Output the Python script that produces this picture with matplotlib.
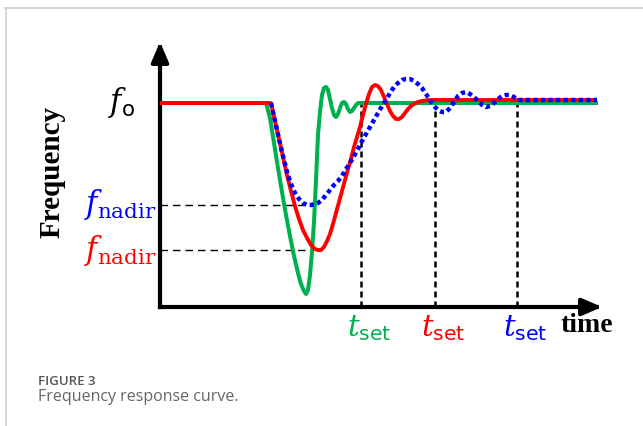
import matplotlib.pyplot as plt
from matplotlib.lines import Line2D

plt.rcParams['mathtext.fontset'] = 'dejavuserif'

GREEN = '#00b050'
RED = '#ff0000'
BLUE = '#0000ff'

F0 = 50.0  # nominal frequency (Hz)

# fast response (green)
t_green = [0.00, 1.06, 1.10, 1.14, 1.18, 1.22, 1.26, 1.30, 1.34, 1.38, 1.41, 1.44,
           1.46, 1.48, 1.50, 1.52, 1.54, 1.56, 1.58, 1.60, 1.62, 1.64, 1.66, 1.68,
           1.70, 1.72, 1.74, 1.76, 1.78, 1.80, 1.82, 1.84, 1.86, 1.88, 1.90, 1.92,
           1.94, 1.96, 1.98, 4.38]
f_green = [50.000, 50.000, 49.925, 49.800, 49.675, 49.555, 49.440, 49.335, 49.235,
           49.150, 49.095, 49.060, 49.045, 49.065, 49.140, 49.255, 49.405, 49.615,
           49.840, 49.955, 50.040, 50.075, 50.080, 50.065, 50.020, 49.975, 49.940,
           49.930, 49.945, 49.975, 50.000, 50.005, 49.995, 49.970, 49.955, 49.960,
           49.975, 49.990, 50.000, 50.000]

# medium response (red)
t_red = [0.00, 1.11, 1.15, 1.19, 1.23, 1.27, 1.31, 1.35, 1.39, 1.43, 1.47, 1.51,
         1.55, 1.58, 1.61, 1.64, 1.67, 1.70, 1.73, 1.76, 1.79, 1.82, 1.85, 1.88,
         1.91, 1.94, 1.97, 2.00, 2.03, 2.06, 2.09, 2.12, 2.15, 2.18, 2.21, 2.24,
         2.27, 2.30, 2.33, 2.36, 2.39, 2.42, 2.45, 2.48, 2.51, 2.54, 2.58, 2.62,
         2.68, 4.37]
f_red = [50.000, 50.000, 49.910, 49.820, 49.730, 49.640, 49.560, 49.485, 49.420,
         49.365, 49.325, 49.290, 49.270, 49.265, 49.265, 49.280, 49.310, 49.345,
         49.395, 49.450, 49.505, 49.560, 49.615, 49.670, 49.720, 49.780, 49.830,
         49.880, 49.940, 49.995, 50.045, 50.080, 50.090, 50.085, 50.065, 50.030,
         49.995, 49.960, 49.935, 49.920, 49.920, 49.930, 49.950, 49.970, 49.985,
         49.995, 50.005, 50.010, 50.015, 50.015]

# slow response (blue, dotted)
t_blue = [1.11, 1.15, 1.19, 1.23, 1.27, 1.31, 1.35, 1.39, 1.43, 1.47, 1.51, 1.55,
          1.58, 1.62, 1.66, 1.70, 1.74, 1.78, 1.82, 1.86, 1.90, 1.94, 1.98, 2.02,
          2.06, 2.10, 2.14, 2.18, 2.22, 2.26, 2.30, 2.34, 2.38, 2.42, 2.46, 2.50,
          2.54, 2.58, 2.62, 2.66, 2.70, 2.74, 2.78, 2.82, 2.86, 2.90, 2.94, 2.98,
          3.02, 3.06, 3.10, 3.14, 3.18, 3.22, 3.26, 3.30, 3.34, 3.38, 3.42, 3.46,
          3.50, 3.54, 3.58, 4.37]
f_blue = [50.000, 49.910, 49.820, 49.735, 49.655, 49.595, 49.550, 49.520, 49.500,
          49.490, 49.490, 49.495, 49.500, 49.515, 49.540, 49.565, 49.590, 49.610,
          49.635, 49.670, 49.700, 49.735, 49.770, 49.810, 49.845, 49.880, 49.915,
          49.950, 49.985, 50.015, 50.050, 50.080, 50.100, 50.115, 50.120, 50.120,
          50.110, 50.095, 50.075, 50.045, 50.015, 49.985, 49.965, 49.955, 49.955,
          49.975, 50.005, 50.035, 50.050, 50.055, 50.045, 50.030, 50.010, 49.990,
          49.980, 49.985, 50.000, 50.020, 50.035, 50.040, 50.040, 50.030, 50.015,
          50.015]

# nadir markers
f_nadir = [49.49, 49.265]
t_nadir = [1.47, 1.50]
nadir_colors = [BLUE, RED]

# settling times and the level where each marker starts
t_set = [2.01, 2.75, 3.57]
f_set = [50.000, 49.975, 50.005]
set_colors = [GREEN, RED, BLUE]

T_MAX = 4.42
F_MIN, F_MAX = 48.98, 50.305

fig = plt.figure(figsize=(6.43, 4.26), dpi=100)

# frame around the figure panel
fig.add_artist(Line2D([5 / 643, 1], [1 - 8 / 426] * 2, transform=fig.transFigure,
                      color='#cccccc', lw=1.1))
fig.add_artist(Line2D([6 / 643] * 2, [0, 1 - 8 / 426], transform=fig.transFigure,
                      color='#cccccc', lw=1.1))

ax = fig.add_axes([160 / 643, 119 / 426, 442 / 643, 265 / 426])
ax.set_xlim(0, T_MAX)
ax.set_ylim(F_MIN, F_MAX)
ax.axis('off')

# axes with arrow heads
arrow = dict(arrowstyle='-|>,head_length=0.6,head_width=0.26', mutation_scale=20,
             lw=3, color='black', shrinkA=0, shrinkB=0, capstyle='projecting')
ax.annotate('', xy=(T_MAX, F_MIN), xytext=(0, F_MIN), arrowprops=arrow,
            annotation_clip=False)
ax.annotate('', xy=(0, F_MAX), xytext=(0, F_MIN), arrowprops=arrow,
            annotation_clip=False)

# responses
ax.plot(t_green, f_green, color=GREEN, lw=2.9, solid_joinstyle='round',
        solid_capstyle='butt', zorder=3, clip_on=False)
ax.plot(t_red, f_red, color=RED, lw=2.8, solid_joinstyle='round',
        solid_capstyle='butt', zorder=4, clip_on=False)
ax.plot(t_blue, f_blue, color=BLUE, lw=3.2, dashes=(0.95, 0.75),
        dash_capstyle='butt', zorder=5, clip_on=False)

# nadir guides and labels
for fn, tn, c in zip(f_nadir, t_nadir, nadir_colors):
    ax.plot([0, tn], [fn, fn], color='black', lw=1.0, dashes=(5.4, 3.6), zorder=2)
    ax.text(-0.04, fn, r'$f_{\mathrm{nadir}}$', color=c, fontsize=22,
            ha='right', va='center')

ax.text(-0.25, F0, r'$f_{\mathsf{o}}$', color='black', fontsize=22,
        ha='right', va='center')

# settling time guides and labels
for ts, fs, c in zip(t_set, f_set, set_colors):
    ax.plot([ts, ts], [F_MIN, fs], color='black', lw=1.8, dashes=(2.4, 1.6), zorder=2)
    ax.text(ts + 0.08, 48.95, r'$t_{\mathsf{set}}$', color=c, fontsize=21,
            ha='center', va='top')

ax.text(4.27, 48.885, 'time', family='Liberation Serif', weight='bold',
        fontsize=20, ha='center', va='center')
fig.text(52 / 643, 1 - 172 / 426, 'Frequency', rotation=90,
         family='Liberation Serif', weight='bold', fontsize=21,
         ha='center', va='center')

# caption
fig.text(38 / 643, 1 - 385 / 426, 'FIGURE 3', family='Open Sans', weight='semibold',
         fontsize=9.5, color='#555555', va='baseline')
fig.text(38 / 643, 1 - 401 / 426, 'Frequency response curve.', family='Open Sans',
         fontsize=11.5, color='#666666', va='baseline')

fig.savefig('out.png', dpi=100)
